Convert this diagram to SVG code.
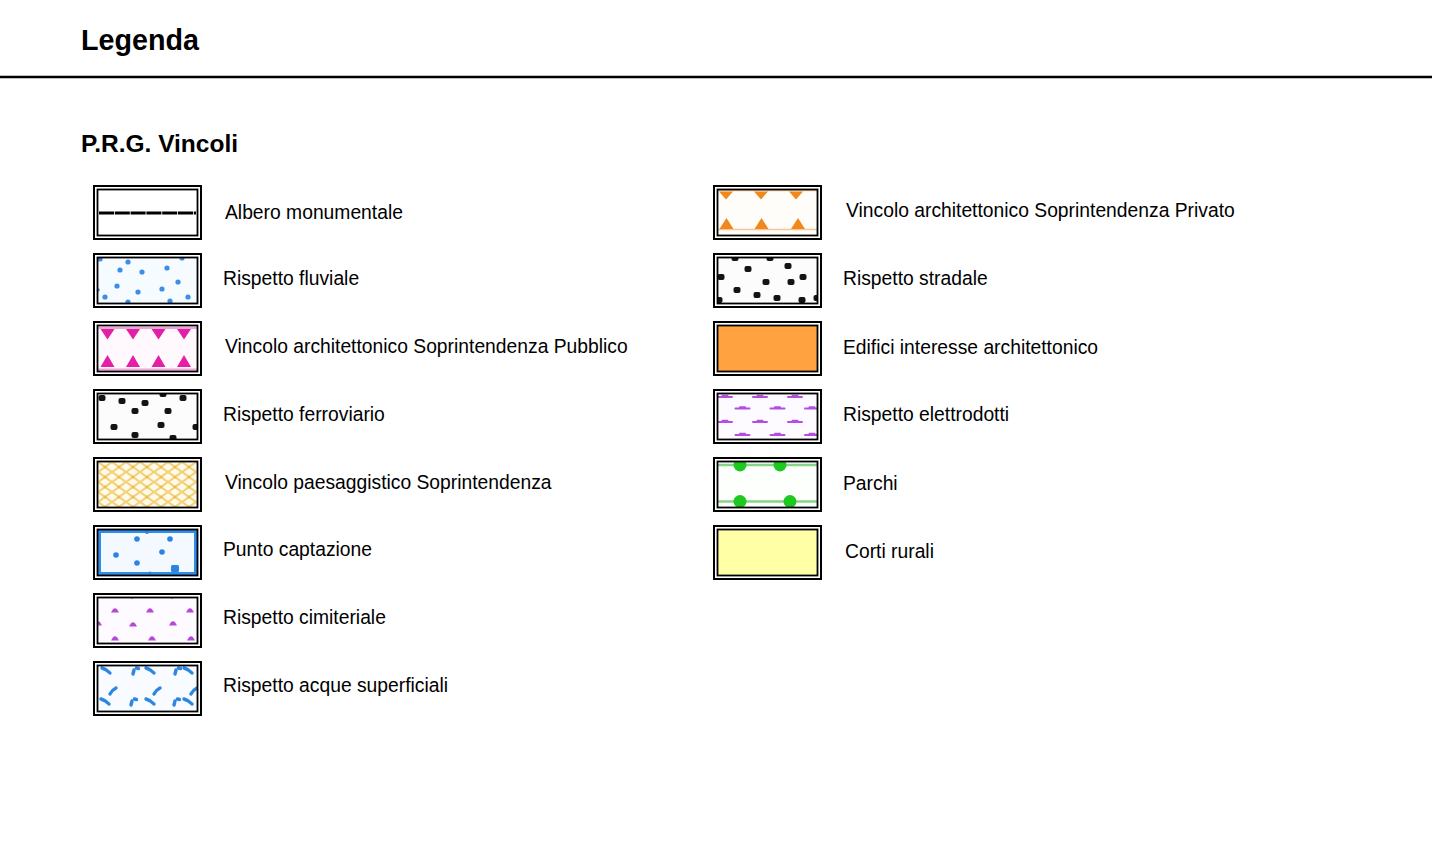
<svg xmlns="http://www.w3.org/2000/svg" width="1432" height="855" viewBox="0 0 1432 855">
<style>
.txt{font-family:"Liberation Sans",Arial,sans-serif;fill:#000}
.h1{font-size:28.7px;font-weight:bold}
.h2{font-size:24.5px;font-weight:bold}
.lbl{font-size:19.3px}
.outer{fill:#fff;stroke:#000;stroke-width:2}
.frame{fill:none;stroke:#000;stroke-width:1.8}
.bd{fill:#3c8ee6}
.blk{fill:#141414}
.mag{fill:#e21fa6}
.org{fill:#f0881a}
.aq{fill:none;stroke:#2f86e0;stroke-width:3.4;stroke-linecap:round}
.el{fill:none;stroke:#b44ee0;stroke-width:2;stroke-linecap:round}
.pur{fill:#b548d6}
.grn{fill:#1ec81e}
</style>
<defs>
<clipPath id="clipIn" clipPathUnits="userSpaceOnUse"><rect x="97.5" y="189.5" width="100" height="46"/></clipPath>
<pattern id="hatch" patternUnits="userSpaceOnUse" x="0" y="0" width="14" height="10">
<rect width="14" height="10" fill="#fffaea"/>
<path d="M0,0 L14,10 M14,0 L0,10" stroke="#f4d27c" stroke-width="2.2"/>
<circle cx="7" cy="5" r="1.6" fill="#ecc04e"/>
</pattern>
<path id="blob" d="M-4,2.5 Q0,-6 4,2.5 Z"/>
<rect id="sq" x="-3.5" y="-3" width="7" height="6" rx="2"/>
<path id="dash" d="M-7,0 H7 M-2.5,-1.2 H2.5"/>
</defs>

<g id="header">
<text class="txt h1" x="81" y="49.5">Legenda</text>
<line x1="0" y1="77" x2="1432" y2="77" stroke="#000" stroke-width="2.5"/>
<text class="txt h2" x="81" y="152">P.R.G. Vincoli</text>
</g>

<!-- Left column -->
<g id="albero-monumentale">
<rect class="outer" x="94" y="186" width="107" height="53"/>
<rect x="97.5" y="189.5" width="100" height="46" fill="#fff"/>
<line x1="99" y1="213" x2="196" y2="213" stroke="#000" stroke-width="2.8" stroke-dasharray="15 0.8"/>
<rect class="frame" x="97.5" y="189.5" width="100" height="46"/>
<text class="txt lbl" x="225" y="219">Albero monumentale</text>
</g>

<g id="rispetto-fluviale" transform="translate(0,68)">
<rect class="outer" x="94" y="186" width="107" height="53"/>
<rect x="97.5" y="189.5" width="100" height="46" fill="#f6fbff"/>
<g clip-path="url(#clipIn)" class="bd">
<circle cx="100" cy="191" r="2.6"/><circle cx="128" cy="194" r="2.6"/><circle cx="182" cy="190" r="2.6"/>
<circle cx="120" cy="202" r="2.6"/><circle cx="142" cy="204" r="2.6"/><circle cx="167" cy="200" r="2.6"/>
<circle cx="178" cy="214" r="2.6"/><circle cx="117" cy="218" r="2.6"/><circle cx="138" cy="224" r="2.6"/>
<circle cx="162" cy="221" r="2.6"/><circle cx="105" cy="229" r="2.6"/><circle cx="128" cy="234" r="2.6"/>
<circle cx="170" cy="233" r="2.6"/><circle cx="188" cy="229" r="2.6"/><circle cx="98" cy="222" r="1.8"/>
</g>
<rect class="frame" x="97.5" y="189.5" width="100" height="46"/>
<text class="txt lbl" x="223" y="217">Rispetto fluviale</text>
</g>

<g id="vincolo-arch-pubblico" transform="translate(0,136)">
<rect class="outer" x="94" y="186" width="107" height="53"/>
<rect x="97.5" y="189.5" width="100" height="46" fill="#fff9fd"/>
<g clip-path="url(#clipIn)">
<path d="M97.5,192 H197.5 M97.5,233.5 H197.5" stroke="#f3a2d8" stroke-width="2.2"/>
<g class="mag">
<polygon points="100.5,193 114.5,193 107.5,203.5"/><polygon points="126,193 140,193 133,203.5"/>
<polygon points="151.5,193 165.5,193 158.5,203.5"/><polygon points="177,193 191,193 184,203.5"/>
<polygon points="100.5,231 114.5,231 107.5,219"/><polygon points="126,231 140,231 133,219"/>
<polygon points="151.5,231 165.5,231 158.5,219"/><polygon points="177,231 191,231 184,219"/>
</g>
</g>
<rect class="frame" x="97.5" y="189.5" width="100" height="46"/>
<text class="txt lbl" x="225" y="217">Vincolo architettonico Soprintendenza Pubblico</text>
</g>

<g id="rispetto-ferroviario" transform="translate(0,204)">
<rect class="outer" x="94" y="186" width="107" height="53"/>
<rect x="97.5" y="189.5" width="100" height="46" fill="#fcfcfc"/>
<g clip-path="url(#clipIn)" class="blk">
<use href="#sq" x="102" y="194"/><use href="#sq" x="122" y="197"/><use href="#sq" x="145" y="199"/>
<use href="#sq" x="163" y="190"/><use href="#sq" x="183" y="194"/><use href="#sq" x="135" y="207"/>
<use href="#sq" x="168" y="207"/><use href="#sq" x="114" y="223"/><use href="#sq" x="161" y="221"/>
<use href="#sq" x="196" y="223"/><use href="#sq" x="135" y="231"/><use href="#sq" x="173" y="234"/>
</g>
<rect class="frame" x="97.5" y="189.5" width="100" height="46"/>
<text class="txt lbl" x="223" y="217">Rispetto ferroviario</text>
</g>

<g id="vincolo-paesaggistico" transform="translate(0,272)">
<rect class="outer" x="94" y="186" width="107" height="53"/>
<rect x="97.5" y="189.5" width="100" height="46" fill="url(#hatch)"/>
<rect class="frame" x="97.5" y="189.5" width="100" height="46"/>
<text class="txt lbl" x="225" y="217">Vincolo paesaggistico Soprintendenza</text>
</g>

<g id="punto-captazione" transform="translate(0,340)">
<rect class="outer" x="94" y="186" width="107" height="53"/>
<rect x="97.5" y="189.5" width="100" height="46" fill="#f3f9ff"/>
<rect x="99.5" y="191.5" width="96" height="42" fill="none" stroke="#2e8ceb" stroke-width="3"/>
<g fill="#2a84e0">
<circle cx="137" cy="199" r="2.8"/><circle cx="170" cy="199" r="2.8"/><circle cx="116" cy="215" r="2.8"/>
<circle cx="162" cy="212" r="2.8"/><circle cx="137" cy="223" r="2.8"/><rect x="171" y="225" width="8" height="7" rx="1.5"/>
<circle cx="147" cy="192" r="2"/><circle cx="150" cy="233.5" r="2"/>
</g>
<rect class="frame" x="97.5" y="189.5" width="100" height="46"/>
<text class="txt lbl" x="223" y="216">Punto captazione</text>
</g>

<g id="rispetto-cimiteriale" transform="translate(0,408)">
<rect class="outer" x="94" y="186" width="107" height="53"/>
<rect x="97.5" y="189.5" width="100" height="46" fill="#fdfbff"/>
<g clip-path="url(#clipIn)" class="pur">
<use href="#blob" x="115" y="202"/><use href="#blob" x="150" y="202"/><use href="#blob" x="190" y="202"/>
<use href="#blob" x="98" y="215"/><use href="#blob" x="133" y="216"/><use href="#blob" x="173" y="215"/>
<use href="#blob" x="115" y="230"/><use href="#blob" x="152" y="230"/><use href="#blob" x="191" y="230"/>
<circle cx="132" cy="190" r="1.3" opacity="0.5"/><circle cx="172" cy="190" r="1.3" opacity="0.5"/>
</g>
<rect class="frame" x="97.5" y="189.5" width="100" height="46"/>
<text class="txt lbl" x="223" y="216">Rispetto cimiteriale</text>
</g>

<g id="rispetto-acque-superficiali" transform="translate(0,476)">
<rect class="outer" x="94" y="186" width="107" height="53"/>
<rect x="97.5" y="189.5" width="100" height="46" fill="#f8fbff"/>
<g clip-path="url(#clipIn)" class="aq">
<path d="M102,192 Q107,193.5 110,197"/><path d="M146,192 Q151,193.5 154,197"/><path d="M184,192 Q189,193.5 192,197"/>
<path d="M133,198 L134,194 M136.5,192 L138.5,192.5"/><path d="M175,198 L176,194 M178.5,192 L180.5,192.5"/>
<path d="M110,218 Q112,214 116,212"/><path d="M154,218 Q156,214 160,212"/><path d="M191,218 Q193,214 197,212"/>
<path d="M101,223 Q106,224.5 109,228"/><path d="M146,223 Q151,224.5 154,228"/><path d="M184,223 Q189,224.5 192,228"/>
<path d="M131,229 L132,225 M134.5,223 L136.5,223.5"/><path d="M174,229 L175,225 M177.5,223 L179.5,223.5"/>
</g>
<rect class="frame" x="97.5" y="189.5" width="100" height="46"/>
<text class="txt lbl" x="223" y="216">Rispetto acque superficiali</text>
</g>

<!-- Right column -->
<g id="vincolo-arch-privato" transform="translate(620,0)">
<rect class="outer" x="94" y="186" width="107" height="53"/>
<rect x="97.5" y="189.5" width="100" height="46" fill="#fffdf9"/>
<g clip-path="url(#clipIn)">
<path d="M97.5,190.5 H197.5 M97.5,229.5 H197.5" stroke="#f6c697" stroke-width="1.6"/>
<g class="org">
<polygon points="99,191.5 113,191.5 106,199.5"/><polygon points="134,191.5 148,191.5 141,199.5"/><polygon points="169,191.5 183,191.5 176,199.5"/>
<polygon points="99.5,229 113.5,229 106.5,218"/><polygon points="134.5,229 148.5,229 141.5,218"/><polygon points="171,229 185,229 178,218"/>
</g>
</g>
<rect class="frame" x="97.5" y="189.5" width="100" height="46"/>
<text class="txt lbl" x="226" y="217">Vincolo architettonico Soprintendenza Privato</text>
</g>

<g id="rispetto-stradale" transform="translate(620,68)">
<rect class="outer" x="94" y="186" width="107" height="53"/>
<rect x="97.5" y="189.5" width="100" height="46" fill="#fcfcfc"/>
<g clip-path="url(#clipIn)" class="blk">
<use href="#sq" x="115" y="190"/><use href="#sq" x="150" y="190"/><use href="#sq" x="128" y="201"/>
<use href="#sq" x="168" y="198"/><use href="#sq" x="101" y="209"/><use href="#sq" x="146" y="214"/>
<use href="#sq" x="183" y="209"/><use href="#sq" x="171" y="214"/><use href="#sq" x="117" y="222"/>
<use href="#sq" x="137" y="227"/><use href="#sq" x="157" y="230"/><use href="#sq" x="182" y="232"/>
<use href="#sq" x="99" y="232"/><use href="#sq" x="197" y="230"/>
</g>
<rect class="frame" x="97.5" y="189.5" width="100" height="46"/>
<text class="txt lbl" x="223" y="217">Rispetto stradale</text>
</g>

<g id="edifici-interesse" transform="translate(620,136)">
<rect class="outer" x="94" y="186" width="107" height="53"/>
<rect x="97.5" y="189.5" width="100" height="46" fill="#ffa23f"/>
<rect class="frame" x="97.5" y="189.5" width="100" height="46"/>
<text class="txt lbl" x="223" y="218">Edifici interesse architettonico</text>
</g>

<g id="rispetto-elettrodotti" transform="translate(620,204)">
<rect class="outer" x="94" y="186" width="107" height="53"/>
<rect x="97.5" y="189.5" width="100" height="46" fill="#fdfbff"/>
<g clip-path="url(#clipIn)" class="el">
<use href="#dash" x="105" y="193"/><use href="#dash" x="140" y="193"/><use href="#dash" x="175" y="193"/>
<use href="#dash" x="122.5" y="204.5"/><use href="#dash" x="157.5" y="204.5"/><use href="#dash" x="192" y="204.5"/>
<use href="#dash" x="105" y="218"/><use href="#dash" x="140" y="218"/><use href="#dash" x="175" y="218"/>
<use href="#dash" x="122.5" y="231"/><use href="#dash" x="157.5" y="231"/><use href="#dash" x="192" y="231"/>
</g>
<rect class="frame" x="97.5" y="189.5" width="100" height="46"/>
<text class="txt lbl" x="223" y="217">Rispetto elettrodotti</text>
</g>

<g id="parchi" transform="translate(620,272)">
<rect class="outer" x="94" y="186" width="107" height="53"/>
<rect x="97.5" y="189.5" width="100" height="46" fill="#fdfffd"/>
<g clip-path="url(#clipIn)">
<path d="M97.5,193 H197.5 M97.5,229.5 H197.5" stroke="#86d486" stroke-width="2.5"/>
<g class="grn">
<circle cx="120" cy="193" r="6.5"/><circle cx="160" cy="193" r="6.5"/>
<circle cx="120" cy="229.5" r="6.5"/><circle cx="170" cy="229.5" r="6.5"/>
</g>
</g>
<rect class="frame" x="97.5" y="189.5" width="100" height="46"/>
<text class="txt lbl" x="223" y="218">Parchi</text>
</g>

<g id="corti-rurali" transform="translate(620,340)">
<rect class="outer" x="94" y="186" width="107" height="53"/>
<rect x="97.5" y="189.5" width="100" height="46" fill="#ffffa6"/>
<rect class="frame" x="97.5" y="189.5" width="100" height="46"/>
<text class="txt lbl" x="225" y="218">Corti rurali</text>
</g>
</svg>
